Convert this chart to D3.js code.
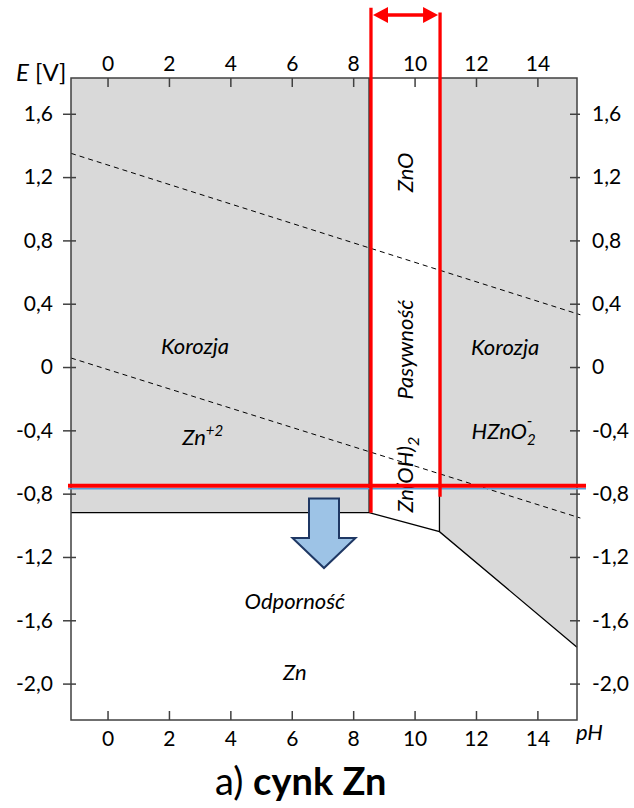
<!DOCTYPE html>
<html>
<head>
<meta charset="utf-8">
<script src="https://cdn.jsdelivr.net/npm/d3@7"></script>
<style>
  body { margin: 0; background: #fff; }
  svg { display: block; font-family: Lato, "Open Sans", sans-serif; }
</style>
</head>
<body>
<svg id="chart" width="634" height="808"></svg>
<script>
// axis ticks
const pHTicks = [0, 2, 4, 6, 8, 10, 12, 14];
const eTicks = [1.6, 1.2, 0.8, 0.4, 0, -0.4, -0.8, -1.2, -1.6, -2.0];

// Pourbaix boundaries (pH, E)
const zincBoundary = [[-1.19, -0.92], [8.52, -0.92], [10.81, -1.04], [15.29, -1.77]];
const passiveLimits = [8.52, 10.81];
const waterUpper = [[-1.19, 1.35], [15.4, 0.33]];
const waterLower = [[-1.19, 0.057], [15.4, -0.954]];

// red markings
const redE = -0.75;
const redPH = [8.58, 10.83];
const redTop = [2.27, 2.24];
const redBottom = [-0.92, -0.82];

const pHmin = -1.19, pHmax = 15.29, Etop = 1.826, Ebot = -2.23;

const svg = d3.select("#chart");
const x = d3.scaleLinear().domain([pHmin, pHmax]).range([71, 577]);
const y = d3.scaleLinear().domain([Etop, Ebot]).range([78, 720]);
const fmt = v => v === 0 ? "0" : v.toFixed(1).replace(".", ",");

const line = d3.line().x(d => x(d[0])).y(d => y(d[1]));

// corrosion regions
svg.append("path")
    .attr("fill", "#d9d9d9")
    .attr("d", line([[pHmin, Etop], [passiveLimits[0], Etop], zincBoundary[1], zincBoundary[0]]) + "Z");
svg.append("path")
    .attr("fill", "#d9d9d9")
    .attr("d", line([[passiveLimits[1], Etop], [pHmax, Etop], zincBoundary[3], zincBoundary[2]]) + "Z");

// water stability lines
[waterUpper, waterLower].forEach(w => {
    svg.append("path")
        .attr("d", line(w))
        .attr("fill", "none")
        .attr("stroke", "#000")
        .attr("stroke-width", 1)
        .attr("stroke-dasharray", "5,4");
});

// boundary lines
svg.append("path")
    .attr("d", line(zincBoundary))
    .attr("fill", "none")
    .attr("stroke", "#000")
    .attr("stroke-width", 1.3);
svg.append("path")
    .attr("d", line([[passiveLimits[0], Etop], zincBoundary[1]]))
    .attr("stroke", "#000").attr("stroke-width", 1.3);
svg.append("path")
    .attr("d", line([[passiveLimits[1], Etop], zincBoundary[2]]))
    .attr("stroke", "#000").attr("stroke-width", 1.3);

// axes
const axisColor = "#404040";
function styleAxis(g) {
    g.select(".domain").remove();
    g.selectAll(".tick line").attr("stroke", axisColor).attr("stroke-width", 1.5);
    g.selectAll(".tick text").attr("fill", "#000").attr("font-size", 21).attr("font-family", "Lato, sans-serif");
}

svg.append("g")
    .attr("transform", "translate(71,0)")
    .call(d3.axisLeft(y).tickValues(eTicks).tickFormat(fmt).tickSize(8).tickPadding(10))
    .call(styleAxis)
    .call(g => g.selectAll(".tick line").attr("x1", 5));

svg.append("g")
    .attr("transform", "translate(577,0)")
    .call(d3.axisRight(y).tickValues(eTicks).tickFormat(fmt).tickSize(3).tickPadding(12))
    .call(styleAxis)
    .call(g => g.selectAll(".tick line").attr("x1", -7));

svg.append("g")
    .attr("transform", "translate(0,78)")
    .call(d3.axisTop(x).tickValues(pHTicks).tickFormat(d3.format("d")).tickSize(0).tickPadding(7))
    .call(styleAxis)
    .call(g => g.selectAll(".tick line").attr("y2", 9));

svg.append("g")
    .attr("transform", "translate(0,720)")
    .call(d3.axisBottom(x).tickValues(pHTicks).tickFormat(d3.format("d")).tickSize(0).tickPadding(11))
    .call(styleAxis)
    .call(g => g.selectAll(".tick line").attr("y2", -9));

// frame
svg.append("rect")
    .attr("x", x(pHmin)).attr("y", y(Etop))
    .attr("width", x(pHmax) - x(pHmin)).attr("height", y(Ebot) - y(Etop))
    .attr("fill", "none").attr("stroke", axisColor).attr("stroke-width", 1.5);

// axis titles
const eLabel = svg.append("text").attr("x", 16).attr("y", 81).attr("font-size", 24);
eLabel.append("tspan").attr("font-style", "italic").text("E");
eLabel.append("tspan").text(" [V]");
svg.append("text").attr("x", 576).attr("y", 740).attr("font-size", 22)
    .attr("font-style", "italic").text("pH");

// region labels
function label(pH, E, txt) {
    return svg.append("text")
        .attr("x", x(pH)).attr("y", y(E))
        .attr("text-anchor", "middle")
        .attr("font-size", 22)
        .attr("font-style", "italic")
        .text(txt);
}
label(2.85, 0.08, "Korozja");
label(12.95, 0.075, "Korozja");
label(6.1, -1.53, "Odporność");
label(6.1, -1.98, "Zn");

const zn2 = label(3.1, -0.49, "Zn");
zn2.append("tspan").attr("font-size", 15).attr("dy", -9).text("+2");

const hzno = label(12.9, -0.455, "HZnO");
hzno.append("tspan").attr("font-size", 15).attr("dy", 6).text("2");
hzno.append("tspan").attr("font-size", 16).attr("dx", -9).attr("dy", -19).text("-");

function vlabel(E, build) {
    const t = svg.append("text")
        .attr("transform", `translate(${x(9.68) + 8},${y(E)}) rotate(-90)`)
        .attr("text-anchor", "middle")
        .attr("font-size", 22)
        .attr("font-style", "italic");
    build(t);
}
vlabel(1.23, t => t.text("ZnO"));
vlabel(0.11, t => t.text("Pasywność"));
vlabel(-0.68, t => {
    t.append("tspan").text("Zn(OH)");
    t.append("tspan").attr("font-size", 16).attr("dy", 6).text("2");
});

// red markings
svg.append("line")
    .attr("x1", x(pHmin) - 3).attr("x2", x(pHmax) + 9)
    .attr("y1", y(redE) + 3).attr("y2", y(redE) + 3)
    .attr("stroke", "#5b9bd5").attr("stroke-width", 1.5);
svg.append("line")
    .attr("x1", x(pHmin) - 3).attr("x2", x(pHmax) + 9)
    .attr("y1", y(redE)).attr("y2", y(redE))
    .attr("stroke", "#ff0000").attr("stroke-width", 4);
redPH.forEach((p, i) => {
    svg.append("line")
        .attr("x1", x(p)).attr("x2", x(p))
        .attr("y1", y(redTop[i])).attr("y2", y(redBottom[i]))
        .attr("stroke", "#ff0000").attr("stroke-width", 3.3);
});

// double-headed arrow between the red verticals
const ay = 15, ax1 = x(redPH[0]) + 2, ax2 = x(redPH[1]) - 2;
svg.append("line")
    .attr("x1", ax1 + 10).attr("x2", ax2 - 10).attr("y1", ay).attr("y2", ay)
    .attr("stroke", "#ff0000").attr("stroke-width", 3.3);
svg.append("path")
    .attr("d", `M${ax1},${ay} L${ax1 + 15},${ay - 8} L${ax1 + 15},${ay + 8} Z`)
    .attr("fill", "#ff0000");
svg.append("path")
    .attr("d", `M${ax2},${ay} L${ax2 - 15},${ay - 8} L${ax2 - 15},${ay + 8} Z`)
    .attr("fill", "#ff0000");

// blue block arrow pointing down (immunity)
const bx = x(7.05), sw = 15, hw = 31.5;
const yTop = y(-0.83), yHead = y(-1.08), yTip = y(-1.27);
svg.append("path")
    .attr("d", `M${bx - sw},${yTop} L${bx + sw},${yTop} L${bx + sw},${yHead} L${bx + hw},${yHead}
        L${bx},${yTip} L${bx - hw},${yHead} L${bx - sw},${yHead} Z`)
    .attr("fill", "#9dc3e6")
    .attr("stroke", "#1f3864")
    .attr("stroke-width", 2)
    .attr("stroke-linejoin", "miter");

// caption
const cap = svg.append("text").attr("x", 215).attr("y", 795).attr("font-size", 38);
cap.append("tspan").text("a) ");
cap.append("tspan").attr("font-weight", "bold").text("cynk Zn");
</script>
</body>
</html>
